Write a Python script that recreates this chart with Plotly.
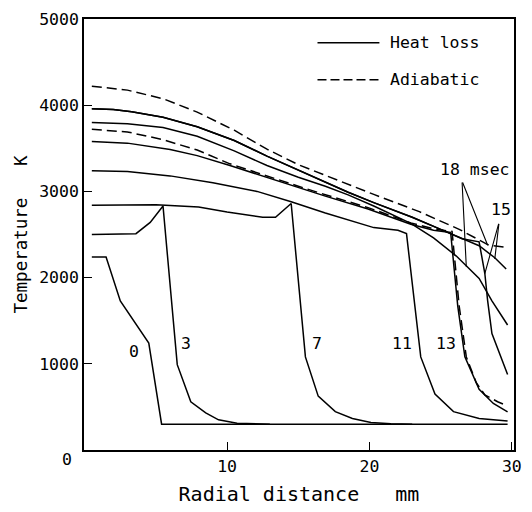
import plotly.graph_objects as go

# ---- data (radial distance mm, temperature K) ----
x_t0 = [0.5, 1.5, 2.5, 4.5, 5.4, 29.7]
y_t0 = [2240, 2240, 1730, 1240, 300, 300]

x_t3 = [0.5, 3.6, 4.6, 5.5, 6.5, 7.45, 8.5, 9.4, 10.7, 13.0]
y_t3 = [2500, 2510, 2640, 2830, 990, 560, 430, 350, 310, 300]

x_t7 = [0.5, 5.0, 8.0, 10.0, 12.5, 13.4, 14.5, 15.5, 16.4, 17.6, 18.8, 20.1, 21.5, 23.0]
y_t7 = [2840, 2845, 2820, 2760, 2700, 2700, 2860, 1080, 625, 445, 365, 320, 305, 300]

x_t11 = [0.5, 3.0, 6.0, 9.0, 12.1, 14.5, 16.9, 20.3, 22.0, 22.6, 23.6, 24.6, 25.9, 27.7, 29.7]
y_t11 = [3240, 3230, 3180, 3100, 3000, 2880, 2750, 2580, 2550, 2510, 1080, 650, 445, 365, 335]

x_t13 = [0.5, 3.0, 6.0, 7.9, 10.2, 12.8, 15.0, 16.9, 19.9, 22.9, 24.5, 25.7, 26.2, 26.7, 27.7, 28.7, 29.7]
y_t13 = [3580, 3560, 3485, 3415, 3300, 3160, 3045, 2945, 2795, 2620, 2550, 2523, 1670, 1080, 705, 540, 443]

x_t15 = [0.5, 2.0, 3.3, 5.5, 7.9, 10.5, 12.8, 15.0, 16.9, 18.5, 20.3, 23.0, 25.0, 26.5, 27.7, 28.8, 29.6]
y_t15 = [3960, 3950, 3925, 3860, 3750, 3590, 3410, 3245, 3105, 2990, 2870, 2700, 2560, 2450, 2370, 2230, 2100]

x_t15b = [0.5, 2.0, 3.3, 5.5, 7.9, 10.5, 12.8, 15.0, 16.9, 18.5, 20.3, 23.0, 25.0, 26.5, 27.7, 28.1, 28.3, 28.6, 29.7]
y_t15b = [3960, 3950, 3925, 3860, 3750, 3590, 3410, 3245, 3105, 2990, 2870, 2700, 2560, 2450, 2415, 2050, 1730, 1350, 875]

x_t18 = [0.5, 2.0, 3.0, 5.5, 7.9, 10.5, 12.8, 15.0, 16.9, 18.5, 20.3, 22.9, 24.5, 26.1, 27.7, 28.6, 29.7]
y_t18 = [3800, 3795, 3785, 3740, 3640, 3470, 3300, 3165, 3060, 2960, 2830, 2630, 2460, 2250, 1990, 1730, 1450]

x_ad13 = [0.5, 3.0, 5.5, 7.9, 10.2, 12.8, 15.0, 16.9, 19.9, 22.9, 24.5, 25.8, 26.3, 26.8, 27.5, 28.1, 29.0, 29.7]
y_ad13 = [3720, 3690, 3600, 3480, 3320, 3175, 3060, 2962, 2812, 2635, 2565, 2535, 1670, 1080, 780, 640, 560, 511]

x_ad18 = [0.5, 3.0, 5.5, 7.9, 10.5, 12.8, 15.0, 17.7, 20.3, 23.5, 26.3, 28.4, 29.7]
y_ad18 = [4220, 4175, 4075, 3920, 3710, 3490, 3310, 3130, 2965, 2765, 2560, 2375, 2350]

heat_loss = [(x_t0, y_t0), (x_t3, y_t3), (x_t7, y_t7), (x_t11, y_t11),
             (x_t13, y_t13), (x_t15, y_t15), (x_t15b, y_t15b), (x_t18, y_t18)]
adiabatic = [(x_ad13, y_ad13), (x_ad18, y_ad18)]

curve_labels = ["0", "3", "7", "11", "13"]
curve_label_x = [3.45, 7.1, 16.3, 22.3, 25.4]
curve_label_y = [1140, 1240, 1240, 1240, 1240]

y_tickvals = [1000, 2000, 3000, 4000, 5000]
x_tickvals = [10, 20, 30]

FONT = "DejaVu Sans Mono"
FS = 16.5

fig = go.Figure()
for xs, ys in heat_loss:
    fig.add_trace(go.Scatter(x=xs, y=ys, mode="lines",
                             line=dict(color="black", width=1.5), showlegend=False))
for xs, ys in adiabatic:
    fig.add_trace(go.Scatter(x=xs, y=ys, mode="lines",
                             line=dict(color="black", width=1.5, dash="10px,5px"),
                             showlegend=False))

for t, xv, yv in zip(curve_labels, curve_label_x, curve_label_y):
    fig.add_annotation(x=xv, y=yv, text=t, showarrow=False,
                       font=dict(family=FONT, size=FS, color="black"))

# time labels with leader lines
fig.add_annotation(x=27.4, y=3250, text="18 msec", showarrow=False,
                   font=dict(family=FONT, size=FS, color="black"))
fig.add_annotation(x=29.25, y=2790, text="15", showarrow=False,
                   font=dict(family=FONT, size=FS, color="black"))
leaders = [((26.5, 3120), (26.8, 2125)), ((26.5, 3120), (28.3, 2375)),
           ((29.1, 2640), (28.1, 2045)), ((29.1, 2640), (28.8, 2216))]
for (ax, ay), (x, y) in leaders:
    fig.add_annotation(x=x, y=y, ax=ax, ay=ay, xref="x", yref="y", axref="x", ayref="y",
                       text="", showarrow=True, arrowhead=0, arrowwidth=1.1, arrowcolor="black")

# legend (drawn)
fig.add_shape(type="line", xref="paper", yref="paper", x0=0.543, x1=0.687, y0=0.945, y1=0.945,
              line=dict(color="black", width=1.5))
fig.add_shape(type="line", xref="paper", yref="paper", x0=0.543, x1=0.687, y0=0.859, y1=0.859,
              line=dict(color="black", width=1.5, dash="9px,4px"))
fig.add_annotation(xref="paper", yref="paper", x=0.708, y=0.945, text="Heat loss",
                   showarrow=False, xanchor="left", yanchor="middle",
                   font=dict(family=FONT, size=FS, color="black"))
fig.add_annotation(xref="paper", yref="paper", x=0.708, y=0.859, text="Adiabatic",
                   showarrow=False, xanchor="left", yanchor="middle",
                   font=dict(family=FONT, size=FS, color="black"))

# origin label
fig.add_annotation(xref="paper", yref="paper", x=-0.039, y=-0.023, text="0", showarrow=False,
                   xanchor="center", yanchor="middle",
                   font=dict(family=FONT, size=FS, color="black"))

fig.update_layout(
    width=532, height=512,
    margin=dict(l=84, r=10, t=13, b=59),
    plot_bgcolor="white", paper_bgcolor="white",
    font=dict(family=FONT, size=FS, color="black"),
)
fig.update_xaxes(range=[-0.05, 30.15], showgrid=False, zeroline=False,
                 showline=True, mirror=True, linecolor="black", linewidth=1.5,
                 ticks="inside", ticklen=8, tickwidth=1.2, tickcolor="black",
                 tickvals=x_tickvals, ticktext=[str(v) for v in x_tickvals],
                 title=dict(text="Radial distance   mm", standoff=12))
fig.update_yaxes(range=[0, 5000], showgrid=False, zeroline=False,
                 showline=True, mirror=True, linecolor="black", linewidth=1.5,
                 ticks="inside", ticklen=8, tickwidth=1.2, tickcolor="black",
                 tickvals=y_tickvals, ticktext=[str(v) for v in y_tickvals],
                 title=dict(text="Temperature   K", standoff=7,
                            font=dict(family=FONT, size=17.5)))

fig.write_html("out.html")
